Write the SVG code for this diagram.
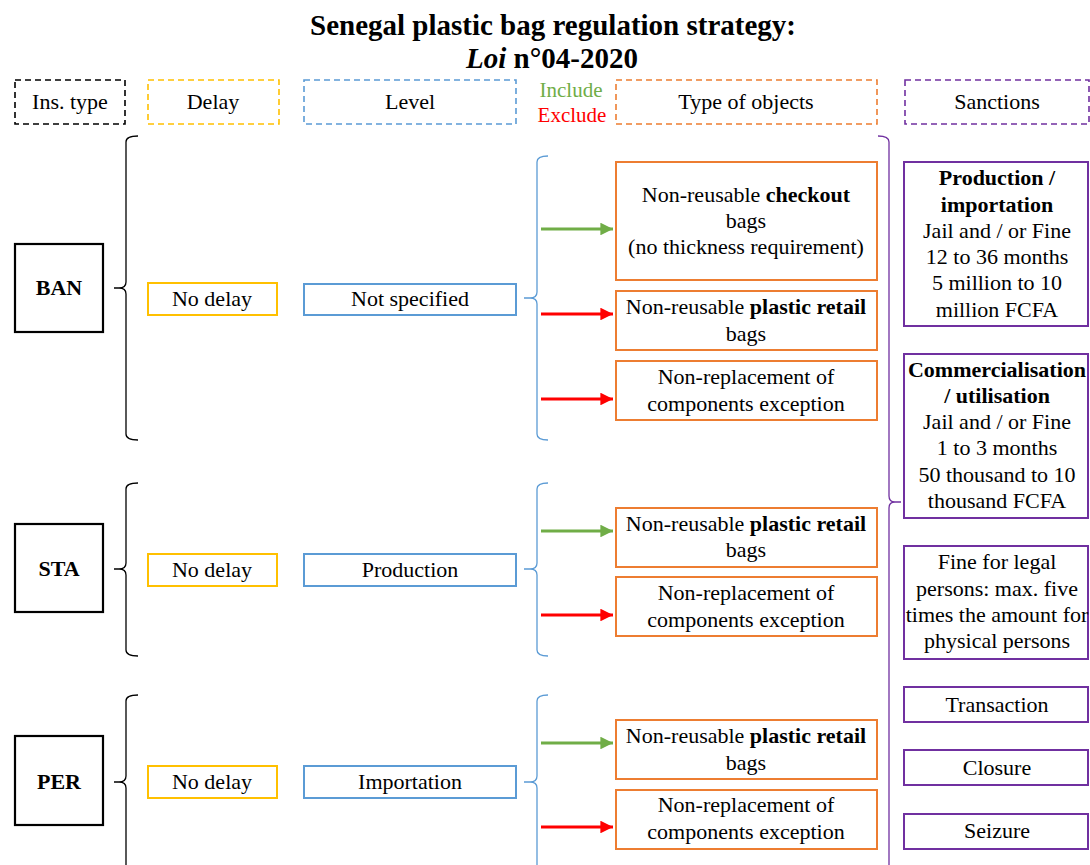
<svg xmlns="http://www.w3.org/2000/svg" width="1090" height="865" viewBox="0 0 1090 865">
<style>
text{font-family:"Liberation Serif","Times New Roman",serif;font-size:22px;fill:#000;text-anchor:middle}
.b{font-weight:bold}
.title{font-size:29px;font-weight:bold}
.ie{font-size:21px}
.hd{fill:none;stroke-width:1.6;stroke-dasharray:6 4}
.ins{fill:#fff;stroke:#000;stroke-width:2.2}
.dly{fill:#fff;stroke:#FFC000;stroke-width:2}
.lvl{fill:#fff;stroke:#5B9BD5;stroke-width:2}
.obj{fill:#fff;stroke:#ED7D31;stroke-width:2}
.snc{fill:#fff;stroke:#7030A0;stroke-width:2}
.br{fill:none;stroke-width:1.3}
.ga{stroke:#70AD47;stroke-width:3}
.ra{stroke:#FF0000;stroke-width:3}
</style>
<defs>
<marker id="mg" viewBox="0 0 10 10" refX="10" refY="5" markerWidth="4.2" markerHeight="4.2" markerUnits="strokeWidth" orient="auto"><path d="M0 0L10 5L0 10z" fill="#70AD47"/></marker>
<marker id="mr" viewBox="0 0 10 10" refX="10" refY="5" markerWidth="4.2" markerHeight="4.2" markerUnits="strokeWidth" orient="auto"><path d="M0 0L10 5L0 10z" fill="#FF0000"/></marker>
</defs>
<rect width="1090" height="865" fill="#fff"/>
<g id="title">
<text class="title" x="553" y="35">Senegal plastic bag regulation strategy:</text>
<text class="title" x="552" y="68"><tspan font-style="italic">Loi</tspan> n°04-2020</text>
</g>
<g id="headers">
<g id="h-ins"><rect class="hd" x="15" y="80" width="110" height="44" stroke="#000"/><text x="70" y="109">Ins. type</text></g>
<g id="h-delay"><rect class="hd" x="148" y="80" width="131" height="44" stroke="#FFC000"/><text x="213" y="109">Delay</text></g>
<g id="h-level"><rect class="hd" x="304" y="80" width="212" height="44" stroke="#5B9BD5"/><text x="410" y="109">Level</text></g>
<g id="h-incl"><text class="ie" x="571" y="97" style="fill:#70AD47">Include</text><text class="ie" x="572" y="122" style="fill:#FF0000">Exclude</text></g>
<g id="h-obj"><rect class="hd" x="616" y="80" width="261" height="44" stroke="#ED7D31"/><text x="746" y="109">Type of objects</text></g>
<g id="h-sanc"><rect class="hd" x="905" y="80" width="184" height="44" stroke="#7030A0"/><text x="997" y="109">Sanctions</text></g>
</g>
<g id="connectors">
<path class="br" stroke="#000" d="M138 136Q126 136 126 142L126 282Q126 288 119 288L114 288M119 288Q126 288 126 294L126 434Q126 440 138 440"/>
<path class="br" stroke="#000" d="M138 483Q126 483 126 489L126 563Q126 569 119 569L114 569M119 569Q126 569 126 575L126 650Q126 656 138 656"/>
<path class="br" stroke="#000" d="M138 695Q126 695 126 701L126 776Q126 782 119 782L114 782M119 782Q126 782 126 788L126 870"/>
<path class="br" stroke="#5B9BD5" d="M548 156Q537 156 537 162L537 292Q537 298 530 298L524 298M530 298Q537 298 537 304L537 434Q537 440 548 440"/>
<path class="br" stroke="#5B9BD5" d="M548 483Q537 483 537 489L537 563Q537 569 530 569L524 569M530 569Q537 569 537 575L537 650Q537 656 548 656"/>
<path class="br" stroke="#5B9BD5" d="M548 695Q537 695 537 701L537 776Q537 782 530 782L524 782M530 782Q537 782 537 788L537 870"/>
<path class="br" stroke="#7030A0" d="M878 136Q889 136 889 142L889 496Q889 502 895 502L901 502M895 502Q889 502 889 508L889 870"/>
<line class="ga" x1="541" y1="229" x2="613" y2="229" marker-end="url(#mg)"/>
<line class="ra" x1="541" y1="314" x2="613" y2="314" marker-end="url(#mr)"/>
<line class="ra" x1="541" y1="399" x2="613" y2="399" marker-end="url(#mr)"/>
<line class="ga" x1="541" y1="531" x2="613" y2="531" marker-end="url(#mg)"/>
<line class="ra" x1="541" y1="615" x2="613" y2="615" marker-end="url(#mr)"/>
<line class="ga" x1="541" y1="743" x2="613" y2="743" marker-end="url(#mg)"/>
<line class="ra" x1="541" y1="827" x2="613" y2="827" marker-end="url(#mr)"/>
</g>
<g id="ban">
<rect class="ins" x="15" y="244" width="88" height="88"/><text class="b" x="59" y="295">BAN</text>
</g>
<g id="ban-delay"><rect class="dly" x="148" y="283" width="129" height="32"/><text x="212" y="306">No delay</text></g>
<g id="ban-level"><rect class="lvl" x="304" y="284" width="212" height="31"/><text x="410" y="306">Not specified</text></g>
<g id="ban-obj1"><rect class="obj" x="616" y="162" width="261" height="118"/>
<text x="746" y="202">Non-reusable <tspan class="b">checkout</tspan></text>
<text x="746" y="228">bags</text>
<text x="746" y="254">(no thickness requirement)</text></g>
<g id="ban-obj2"><rect class="obj" x="616" y="291" width="261" height="59"/>
<text x="746" y="314">Non-reusable <tspan class="b">plastic retail</tspan></text>
<text x="746" y="341">bags</text></g>
<g id="ban-obj3"><rect class="obj" x="616" y="361" width="261" height="59"/>
<text x="746" y="384">Non-replacement of</text>
<text x="746" y="411">components exception</text></g>
<g id="sta">
<rect class="ins" x="15" y="524" width="88" height="88"/><text class="b" x="59" y="576">STA</text>
</g>
<g id="sta-delay"><rect class="dly" x="148" y="554" width="129" height="32"/><text x="212" y="577">No delay</text></g>
<g id="sta-level"><rect class="lvl" x="304" y="554" width="212" height="32"/><text x="410" y="577">Production</text></g>
<g id="sta-obj1"><rect class="obj" x="616" y="508" width="261" height="59"/>
<text x="746" y="531">Non-reusable <tspan class="b">plastic retail</tspan></text>
<text x="746" y="557">bags</text></g>
<g id="sta-obj2"><rect class="obj" x="616" y="577" width="261" height="59"/>
<text x="746" y="600">Non-replacement of</text>
<text x="746" y="627">components exception</text></g>
<g id="per">
<rect class="ins" x="15" y="736" width="88" height="89"/><text class="b" x="59" y="789">PER</text>
</g>
<g id="per-delay"><rect class="dly" x="148" y="766" width="129" height="32"/><text x="212" y="789">No delay</text></g>
<g id="per-level"><rect class="lvl" x="304" y="766" width="212" height="32"/><text x="410" y="789">Importation</text></g>
<g id="per-obj1"><rect class="obj" x="616" y="720" width="261" height="59"/>
<text x="746" y="743">Non-reusable <tspan class="b">plastic retail</tspan></text>
<text x="746" y="770">bags</text></g>
<g id="per-obj2"><rect class="obj" x="616" y="790" width="261" height="59"/>
<text x="746" y="812">Non-replacement of</text>
<text x="746" y="839">components exception</text></g>
<g id="sanc1"><rect class="snc" x="904" y="162" width="184" height="164"/>
<text class="b" x="997" y="185">Production /</text>
<text class="b" x="997" y="212">importation</text>
<text x="997" y="238">Jail and / or Fine</text>
<text x="997" y="264">12 to 36 months</text>
<text x="997" y="290">5 million to 10</text>
<text x="997" y="317">million FCFA</text></g>
<g id="sanc2"><rect class="snc" x="904" y="354" width="184" height="164"/>
<text class="b" x="997" y="377">Commercialisation</text>
<text class="b" x="997" y="403">/ utilisation</text>
<text x="997" y="429">Jail and / or Fine</text>
<text x="997" y="455">1 to 3 months</text>
<text x="997" y="482">50 thousand to 10</text>
<text x="997" y="508">thousand FCFA</text></g>
<g id="sanc3"><rect class="snc" x="904" y="546" width="184" height="113"/>
<text x="997" y="569">Fine for legal</text>
<text x="997" y="596">persons: max. five</text>
<text x="997" y="622">times the amount for</text>
<text x="997" y="648">physical persons</text></g>
<g id="sanc4"><rect class="snc" x="904" y="687" width="184" height="35"/><text x="997" y="712">Transaction</text></g>
<g id="sanc5"><rect class="snc" x="904" y="750" width="184" height="35"/><text x="997" y="775">Closure</text></g>
<g id="sanc6"><rect class="snc" x="904" y="814" width="184" height="35"/><text x="997" y="838">Seizure</text></g>
</svg>
